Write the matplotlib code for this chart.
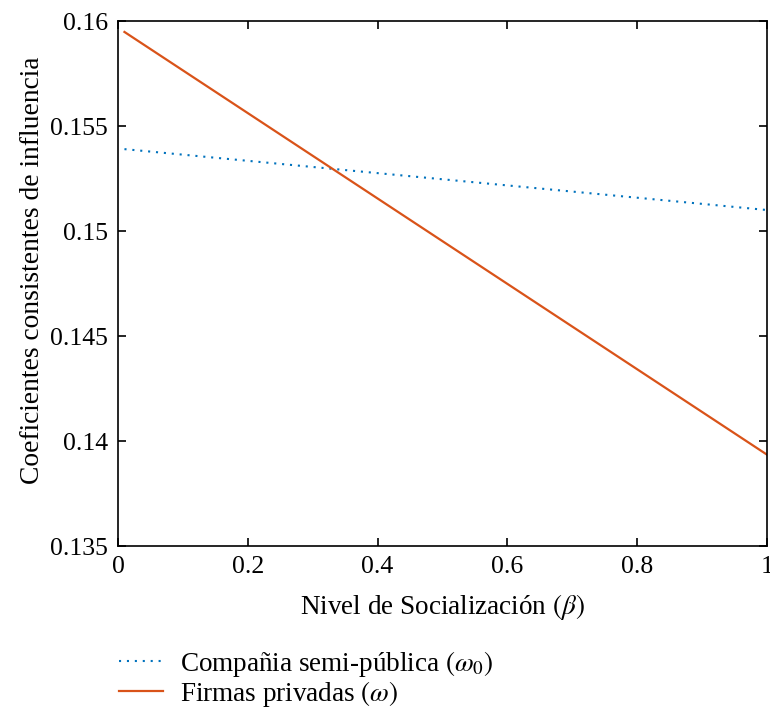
""" Recreates the influence coefficients vs socialization level chart.
"""

import matplotlib
matplotlib.use("Agg")
import numpy as np
from matplotlib import pyplot as plt
from matplotlib.ticker import FormatStrFormatter

# ------------------------------------------------------------------------------
# Data.
# ------------------------------------------------------------------------------

beta = [0.01, 1.0]
omega_0 = [0.15390, 0.15100]
omega = [0.15948, 0.13935]

x_ticks = [0, 0.2, 0.4, 0.6, 0.8, 1]
y_ticks = [0.135, 0.14, 0.145, 0.15, 0.155, 0.16]

label_semi = r"Compañia semi-pública $(\omega_0)$"
label_priv = r"Firmas privadas $(\omega)$"

# ------------------------------------------------------------------------------
# Plot.
# ------------------------------------------------------------------------------

plt.rcParams["font.family"] = ["Liberation Serif", "DejaVu Serif"]
plt.rcParams["mathtext.fontset"] = "stix"
plt.rcParams["font.size"] = 19.5

fig = plt.figure(figsize=(7.7, 7.13), dpi=100)
ax = fig.add_axes([0.1532, 0.2342, 0.8429, 0.7363])

ax.plot(beta, omega_0, color="#0072BD", linestyle=(0, (1, 2.8)), linewidth=1.5,
        label=label_semi)
ax.plot(beta, omega, color="#D95319", linestyle="-", linewidth=1.6,
        label=label_priv)

ax.set_xlim(0, 1)
ax.set_ylim(0.135, 0.16)
ax.set_xticks(x_ticks)
ax.set_yticks(y_ticks)
ax.xaxis.set_major_formatter(FormatStrFormatter("%g"))
ax.yaxis.set_major_formatter(FormatStrFormatter("%g"))
ax.tick_params(direction="in", length=6, width=1.2, top=True, right=True,
               labelsize=18.5, pad=7)
for spine in ax.spines.values():
    spine.set_linewidth(1.2)

ax.set_xlabel(r"Nivel de Socialización $(\beta)$", fontsize=19.5, labelpad=10)
ax.set_ylabel("Coeficientes consistentes de influencia", fontsize=19.8)
ax.yaxis.set_label_coords(-0.112, 0.525)

fig.legend(loc="upper left", bbox_to_anchor=(0.154, 0.09), frameon=False,
           fontsize=19.5, handlelength=1.65, handletextpad=0.6,
           labelspacing=0.0, borderaxespad=0, borderpad=0)

fig.savefig("out.png", dpi=100)
